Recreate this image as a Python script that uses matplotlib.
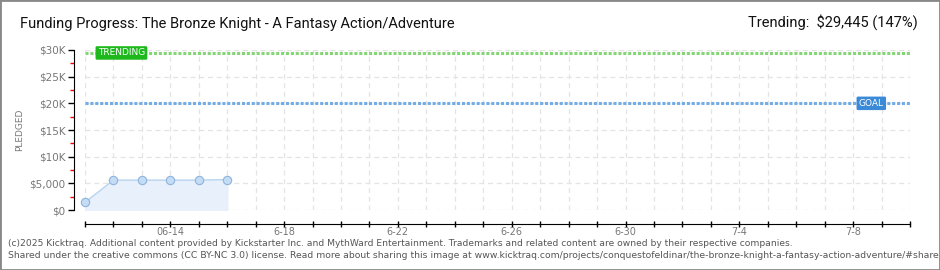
import matplotlib.pyplot as plt
import matplotlib.patches as mpatches
import numpy as np

# data
days = [0, 1, 2, 3, 4, 5]          # days since 6-11
pledged = [1450, 5600, 5600, 5600, 5600, 5700]
goal = 20000
trending = 29445
tick_days = [3, 7, 11, 15, 19, 23, 27]
tick_labels = ['06-14', '6-18', '6-22', '6-26', '6-30', '7-4', '7-8']
y_ticks = [0, 5000, 10000, 15000, 20000, 25000, 30000]
y_labels = ['$0', '$5,000', '$10K', '$15K', '$20K', '$25K', '$30K']

fig = plt.figure(figsize=(9.4, 2.7), dpi=100)
ax = fig.add_axes([85 / 940, 1 - 210 / 270, 825 / 940, 160 / 270])

ax.set_xlim(0, 29)
ax.set_ylim(0, 30000)

# grid
for d in range(0, 30):
    ax.axvline(d, color='#e4e4e4', lw=0.9, ls=(0, (4, 3)), zorder=0)
for v in y_ticks:
    ax.axhline(v, color='#e4e4e4', lw=0.9, ls=(0, (4, 3)), zorder=0)

# series
ax.fill_between(days, pledged, 0, color='#e8f1fb', zorder=1)
ax.plot(days, pledged, color='#b8d4f0', lw=1, zorder=2)
ax.plot(days, pledged, 'o', ms=6, mfc='#c4dcf4', mec='#8fb4dc', mew=0.8, zorder=3,
        clip_on=False)

# goal / trending lines
ax.axhline(trending, color='#86d478', lw=2.2, ls=(0, (1, 0.6)), zorder=2)
ax.axhline(goal, color='#74ace6', lw=2.2, ls=(0, (1, 0.6)), zorder=2)
ax.text(0.45, trending, 'TRENDING', color='white', fontsize=6.5, va='center', ha='left',
        family='DejaVu Sans',
        bbox=dict(boxstyle='round,pad=0.25,rounding_size=0.15', fc='#1cb81c', ec='none'),
        zorder=5)
ax.text(27.2, goal, 'GOAL', color='white', fontsize=6.5, va='center', ha='left',
        family='DejaVu Sans',
        bbox=dict(boxstyle='round,pad=0.25,rounding_size=0.15', fc='#3a8ad8', ec='none'),
        zorder=5)

# axes styling
for s in ['top', 'right']:
    ax.spines[s].set_visible(False)
ax.spines['left'].set_position(('outward', 8))
ax.spines['bottom'].set_position(('outward', 10))
ax.spines['left'].set_bounds(0, 30000)
ax.spines['left'].set_color('black')
ax.spines['bottom'].set_color('black')

ax.set_yticks(y_ticks)
ax.set_yticklabels(y_labels, fontsize=7.5, color='#777777')
ax.set_yticks(np.arange(2500, 30000, 5000), minor=True)
ax.tick_params(axis='y', which='major', length=4, width=1, pad=2)
ax.tick_params(axis='y', which='minor', length=3, width=1, color='red')

ax.set_xticks(range(0, 30), minor=True)
ax.set_xticks(tick_days)
ax.set_xticklabels(tick_labels, fontsize=7, color='#777777')
ax.tick_params(axis='x', which='both', direction='inout', length=5, width=1, pad=0)

ax.set_ylabel('PLEDGED', fontsize=6.5, color='#777777', labelpad=4)

# texts
fig.text(20 / 940, 1 - 24 / 270, 'Funding Progress: The Bronze Knight - A Fantasy Action/Adventure',
         fontsize=10.5, va='center', ha='left', color='#111111', family='Roboto')
fig.text(918 / 940, 1 - 22 / 270, 'Trending:  $29,445 (147%)', fontsize=10.5, va='center',
         ha='right', color='#111111', family='Roboto')
fig.text(8 / 940, 1 - 243 / 270,
         '(c)2025 Kicktraq. Additional content provided by Kickstarter Inc. and MythWard Entertainment. '
         'Trademarks and related content are owned by their respective companies.',
         fontsize=6.6, color='#555555', va='center', ha='left')
fig.text(8 / 940, 1 - 256 / 270,
         'Shared under the creative commons (CC BY-NC 3.0) license. Read more about sharing this image at '
         'www.kicktraq.com/projects/conquestofeldinar/the-bronze-knight-a-fantasy-action-adventure/#share',
         fontsize=6.7, color='#555555', va='center', ha='left')

# outer border
fig.patches.append(mpatches.Rectangle((0, 0), 1, 1, transform=fig.transFigure, fill=False,
                                      ec='#888888', lw=2))

fig.savefig('out.png', dpi=100)
